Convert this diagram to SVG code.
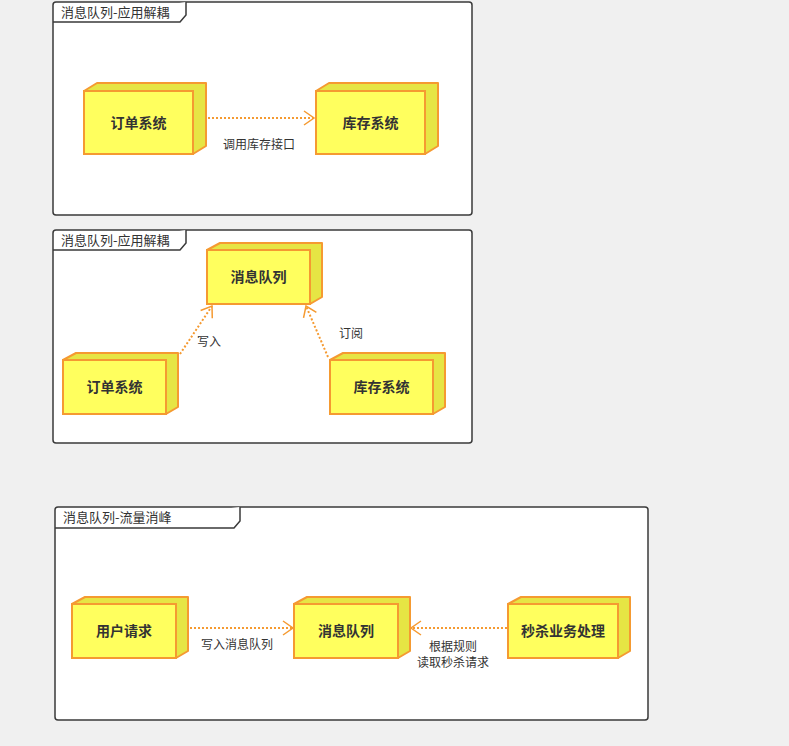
<svg xmlns="http://www.w3.org/2000/svg" width="789" height="746" viewBox="0 0 789 746">
  <style>
    .frame { fill: #ffffff; stroke: #3a3a3a; stroke-width: 1.5; }
    .tab { fill: #ffffff; stroke: #3a3a3a; stroke-width: 1.5; }
    .title { font-family: "Noto Sans CJK SC", "Liberation Sans", sans-serif; font-size: 13px; fill: #333333; }
    .front { fill: #ffff5e; stroke: #f59a31; stroke-width: 2; }
    .side { fill: #e6e544; stroke: #f59a31; stroke-width: 2; stroke-linejoin: round; }
    .name { font-family: "Noto Sans CJK SC", "Liberation Sans", sans-serif; font-size: 14px; font-weight: bold; fill: #333333; text-anchor: middle; }
    .label { font-family: "Noto Sans CJK SC", "Liberation Sans", sans-serif; font-size: 12px; fill: #333333; text-anchor: middle; }
    .link { fill: none; stroke: #f59a31; stroke-width: 2; stroke-dasharray: 2 2; }
  </style>
  <defs>
    <marker id="open" markerWidth="14" markerHeight="16" refX="12" refY="8" orient="auto" markerUnits="userSpaceOnUse">
      <path d="M2,1 L12,8 L2,15" fill="none" stroke="#f59a31" stroke-width="1.5"/>
    </marker>
  </defs>
  <rect width="789" height="746" fill="#f0f0f0"/>

  <!-- frame 1 -->
  <g id="frame-decouple-1">
    <rect class="frame" x="53" y="2" width="419" height="213" rx="3"/>
    <path class="tab" d="M53,22 L180,22 L186,15 L186,2"/>
    <text class="title" x="61" y="17">消息队列-应用解耦</text>
  </g>
  <g id="order-1">
    <path class="side" d="M84,91 L97,83 L206,83 L206,146 L193,154 L193,91 Z"/>
    <rect class="front" x="84" y="91" width="109" height="63"/>
    <text class="name" x="138.5" y="128">订单系统</text>
  </g>
  <g id="stock-1">
    <path class="side" d="M316,91 L329,83 L438,83 L438,146 L425,154 L425,91 Z"/>
    <rect class="front" x="316" y="91" width="109" height="63"/>
    <text class="name" x="370.5" y="128">库存系统</text>
  </g>

  <!-- frame 2 -->
  <g id="frame-decouple-2">
    <rect class="frame" x="53" y="230" width="419" height="213" rx="3"/>
    <path class="tab" d="M53,250 L180,250 L186,243 L186,230"/>
    <text class="title" x="61" y="245">消息队列-应用解耦</text>
  </g>
  <g id="queue-2">
    <path class="side" d="M207,250 L220,243 L322,243 L322,297 L310,304 L310,250 Z"/>
    <rect class="front" x="207" y="250" width="103" height="54"/>
    <text class="name" x="258.5" y="282">消息队列</text>
  </g>
  <g id="order-2">
    <path class="side" d="M63,360 L76,353 L178,353 L178,407 L166,414 L166,360 Z"/>
    <rect class="front" x="63" y="360" width="103" height="54"/>
    <text class="name" x="114.5" y="392">订单系统</text>
  </g>
  <g id="stock-2">
    <path class="side" d="M330,360 L343,353 L445,353 L445,407 L433,414 L433,360 Z"/>
    <rect class="front" x="330" y="360" width="103" height="54"/>
    <text class="name" x="381.5" y="392">库存系统</text>
  </g>

  <!-- frame 3 -->
  <g id="frame-peak">
    <rect class="frame" x="55" y="507" width="593" height="213" rx="3"/>
    <path class="tab" d="M55,528 L234,528 L240,521 L240,507"/>
    <text class="title" x="63" y="522">消息队列-流量消峰</text>
  </g>
  <g id="user-request">
    <path class="side" d="M72,604 L85,597 L188,597 L188,651 L176,658 L176,604 Z"/>
    <rect class="front" x="72" y="604" width="104" height="54"/>
    <text class="name" x="124" y="636">用户请求</text>
  </g>
  <g id="queue-3">
    <path class="side" d="M294,604 L307,597 L410,597 L410,651 L398,658 L398,604 Z"/>
    <rect class="front" x="294" y="604" width="104" height="54"/>
    <text class="name" x="346" y="636">消息队列</text>
  </g>
  <g id="seckill">
    <path class="side" d="M508,604 L521,597 L630,597 L630,651 L618,658 L618,604 Z"/>
    <rect class="front" x="508" y="604" width="110" height="54"/>
    <text class="name" x="563" y="636">秒杀业务处理</text>
  </g>

  <!-- connectors -->
  <g id="connectors">
    <line class="link" x1="208" y1="118" x2="314" y2="118" marker-end="url(#open)"/>
    <text class="label" x="259" y="149">调用库存接口</text>

    <line class="link" x1="180" y1="354" x2="212" y2="306" marker-end="url(#open)"/>
    <text class="label" x="209" y="346">写入</text>

    <line class="link" x1="328" y1="357" x2="306" y2="306" marker-end="url(#open)"/>
    <text class="label" x="351" y="338">订阅</text>

    <line class="link" x1="190" y1="628" x2="293" y2="628" marker-end="url(#open)"/>
    <text class="label" x="237" y="649">写入消息队列</text>

    <line class="link" x1="507" y1="628" x2="411" y2="628" marker-end="url(#open)"/>
    <text class="label" x="453" y="651">根据规则</text>
    <text class="label" x="453" y="667">读取秒杀请求</text>
  </g>
</svg>
